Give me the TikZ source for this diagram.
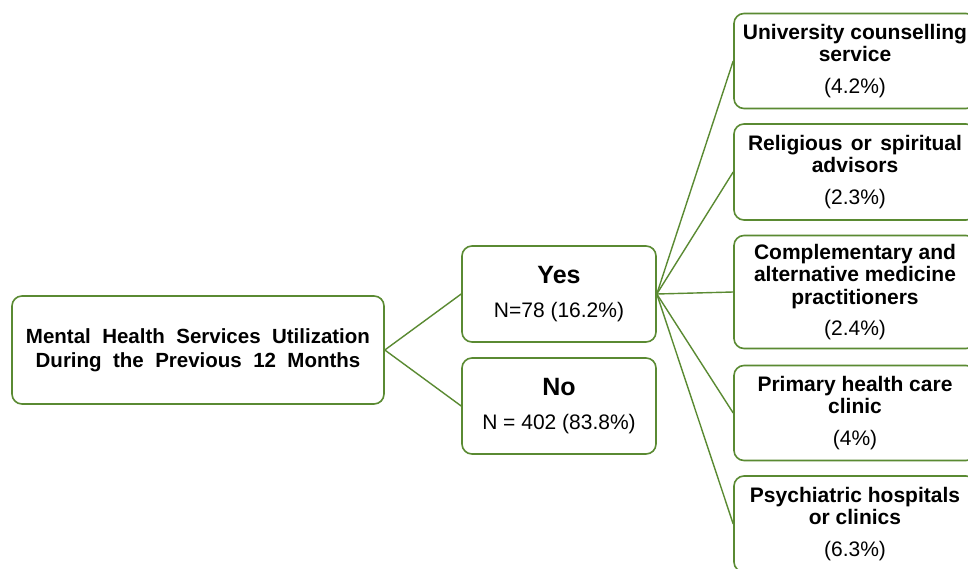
\documentclass[tikz,border=0pt]{standalone}
\usepackage{fontspec}
\setmainfont{Liberation Sans}
\definecolor{boxgreen}{HTML}{5A8A32}
\begin{document}
\begin{tikzpicture}[x=1pt,y=-1pt,
  box/.style={draw=boxgreen,line width=1.6pt,rounded corners=10pt,fill=white,align=center,inner sep=0pt},
  link/.style={draw=boxgreen,line width=1.4pt},
  rbox/.style={box,minimum width=242pt,font=\fontsize{21}{22.5}\selectfont}]
\clip (0,0) rectangle (968,569);
\useasboundingbox (0,0) rectangle (968,569);
\fill[white] (0,0) rectangle (968,569);
\node[box,minimum width=372pt,minimum height=108pt,font=\fontsize{20.5}{24}\selectfont\bfseries] (main) at (198,350)
  {Mental\ \ Health\ \ Services\ \ Utilization\\During\ \ the\ \ Previous\ \ 12\ \ Months};
\node[box,minimum width=194pt,minimum height=96pt,font=\fontsize{21}{24}\selectfont] (yes) at (559,294)
  {{\fontsize{25}{26}\selectfont\bfseries Yes}\\[10pt]N=78 (16.2\%)};
\node[box,minimum width=194pt,minimum height=96pt,font=\fontsize{21}{24}\selectfont] (no) at (559,406)
  {{\fontsize{25}{26}\selectfont\bfseries No}\\[10pt]N = 402 (83.8\%)};
\node[rbox,minimum height=95pt] (r1) at (855,61)
  {\textbf{University counselling}\\\textbf{service}\\[9pt](4.2\%)};
\node[rbox,minimum height=96pt] (r2) at (855,172)
  {\textbf{Religious\hspace{0.4em}or\hspace{0.4em}spiritual}\\\textbf{advisors}\\[9pt](2.3\%)};
\node[rbox,minimum height=113pt] (r3) at (855,292)
  {\textbf{Complementary and}\\\textbf{alternative medicine}\\\textbf{practitioners}\\[9pt](2.4\%)};
\node[rbox,minimum height=95pt] (r4) at (855,413)
  {\textbf{Primary health care}\\\textbf{clinic}\\[9pt](4\%)};
\node[rbox,minimum height=96pt] (r5) at (855,524)
  {\textbf{Psychiatric hospitals}\\\textbf{or clinics}\\[9pt](6.3\%)};
\draw[link] (main.east) -- (yes.west);
\draw[link] (main.east) -- (no.west);
\foreach \r in {r1,r2,r3,r4,r5} \draw[link] (yes.east) -- (\r.west);
\end{tikzpicture}
\end{document}
